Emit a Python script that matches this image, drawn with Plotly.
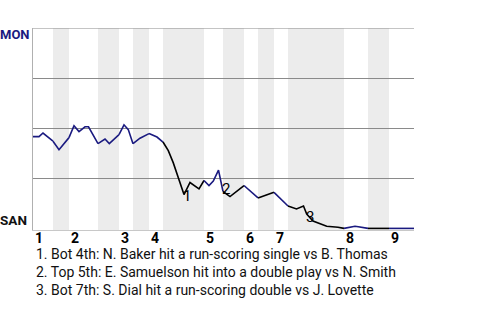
import plotly.graph_objects as go

# Game progress (x) and MON win probability in % (y)
progress = [0, 6, 10, 20, 26, 36, 41, 46, 52, 55.5, 65, 72, 76.3, 82, 86, 91, 95.3,
            100, 107, 116, 124, 130, 135.3, 140.3, 145.3, 151, 157, 166, 171, 176,
            180.3, 185.5, 190, 197, 211, 225, 241, 255, 263.5, 270.5, 273.7, 280,
            287, 293.7, 305, 311, 315.3, 322, 325.3, 332, 335, 356, 381]
mon_wp = [45.8, 45.8, 47.6, 43.5, 39.3, 45.3, 51.2, 48.3, 50.7, 50.7, 42.3, 44.6, 42.3,
          44.8, 46.8, 51.7, 49.3, 42.3, 45.0, 47.3, 45.6, 43.1, 38.8, 32.7, 25.2, 16.9,
          22.9, 19.7, 23.9, 21.4, 23.6, 29.1, 18.4, 15.9, 21.4, 15.2, 18.0, 11.2, 9.7,
          11.2, 7.2, 3.7, 2.3, 1.1, 0.6, 0.0, 0.3, 1.1, 0.8, 0.0, 0.0, 0.0, 0.0]

# Half-inning start positions (top 1, bot 1, top 2, ...), and game end
half_starts = [0, 20, 36, 65, 86, 100, 116, 130, 171, 190, 211, 225, 241, 255, 311, 335, 356]
game_end = 381
NAVY = "#1a1a80"
half_colors = [NAVY, NAVY, NAVY, NAVY, NAVY, NAVY, NAVY, "#000000", NAVY, "#000000",
               NAVY, "#000000", NAVY, "#000000", NAVY, "#000000", NAVY]
innings = ["1", "2", "3", "4", "5", "6", "7", "8", "9"]

# Key plays
key_x = [151, 190, 273.7]
key_y = [16.9, 18.4, 7.2]
key_labels = ["1", "2", "3"]
captions = [
    "1. Bot 4th: N. Baker hit a run-scoring single vs B. Thomas",
    "2. Top 5th: E. Samuelson hit into a double play vs N. Smith",
    "3. Bot 7th: S. Dial hit a run-scoring double vs J. Lovette",
]
team_top, team_bottom = "MON", "SAN"

FONT = "Roboto, sans-serif"
key_shift = [(3, -1), (3, 3), (3, -3)]

fig = go.Figure()

ends = half_starts[1:] + [game_end]
shapes = []
for i, (s, e) in enumerate(zip(half_starts, ends)):
    if i % 2 == 1:
        shapes.append(dict(type="rect", xref="x", yref="paper", x0=s, x1=e, y0=0, y1=1,
                           fillcolor="#ececec", line=dict(width=0), layer="below"))
    xs = [x for x in progress if s <= x <= e]
    ys = [y for x, y in zip(progress, mon_wp) if s <= x <= e]
    fig.add_trace(go.Scatter(x=xs, y=ys, mode="lines",
                             line=dict(color=half_colors[i], width=1.6),
                             hoverinfo="skip", showlegend=False))

# top border line (same style as gridlines)
shapes.append(dict(type="line", xref="paper", yref="y", x0=0, x1=1, y0=100, y1=100,
                   line=dict(color="#8a8a8a", width=1.2), layer="below"))

annotations = []
for (x, y, t), (dx, dy) in zip(zip(key_x, key_y, key_labels), key_shift):
    annotations.append(dict(x=x, y=y, text=t, showarrow=False, xanchor="center",
                            yanchor="middle", xshift=dx, yshift=dy,
                            font=dict(family=FONT, size=15, color="#000")))

for i, lab in enumerate(innings):
    annotations.append(dict(x=half_starts[2 * i], y=0, xref="x", yref="paper", text=lab,
                            showarrow=False, xanchor="left", yanchor="top", xshift=0,
                            yshift=2,
                            font=dict(family=FONT, size=14, color="#000", weight="bold")))

annotations.append(dict(x=0, y=100, xref="paper", yref="y", text=team_top, showarrow=False,
                        xanchor="right", yanchor="middle", xshift=-1, yshift=-6,
                        font=dict(family=FONT, size=13, color=NAVY, weight="bold")))
annotations.append(dict(x=0, y=0, xref="paper", yref="y", text=team_bottom, showarrow=False,
                        xanchor="right", yanchor="middle", xshift=-4, yshift=8,
                        font=dict(family=FONT, size=13.5, color="#111", weight="bold")))

for i, c in enumerate(captions):
    annotations.append(dict(x=0, y=0, xref="paper", yref="paper", text=c, showarrow=False,
                            xanchor="left", yanchor="middle", xshift=1,
                            yshift=-24 - 18 * i,
                            font=dict(family=FONT, size=14, color="#111")))

fig.update_layout(
    width=480, height=320,
    margin=dict(l=33, r=66, t=28, b=90),
    paper_bgcolor="white", plot_bgcolor="white",
    shapes=shapes, annotations=annotations,
    xaxis=dict(range=[0, game_end], showgrid=False, zeroline=False, showticklabels=False,
               showline=True, linecolor="#c8c8c8", linewidth=1, ticks=""),
    yaxis=dict(range=[-0.8, 100], tickvals=[25, 50, 75], showticklabels=False,
               showgrid=True, gridcolor="#8a8a8a", gridwidth=1.2, zeroline=False,
               showline=True, linecolor="#b0b0b0", linewidth=1, ticks=""),
)

fig.write_html("out.html")
